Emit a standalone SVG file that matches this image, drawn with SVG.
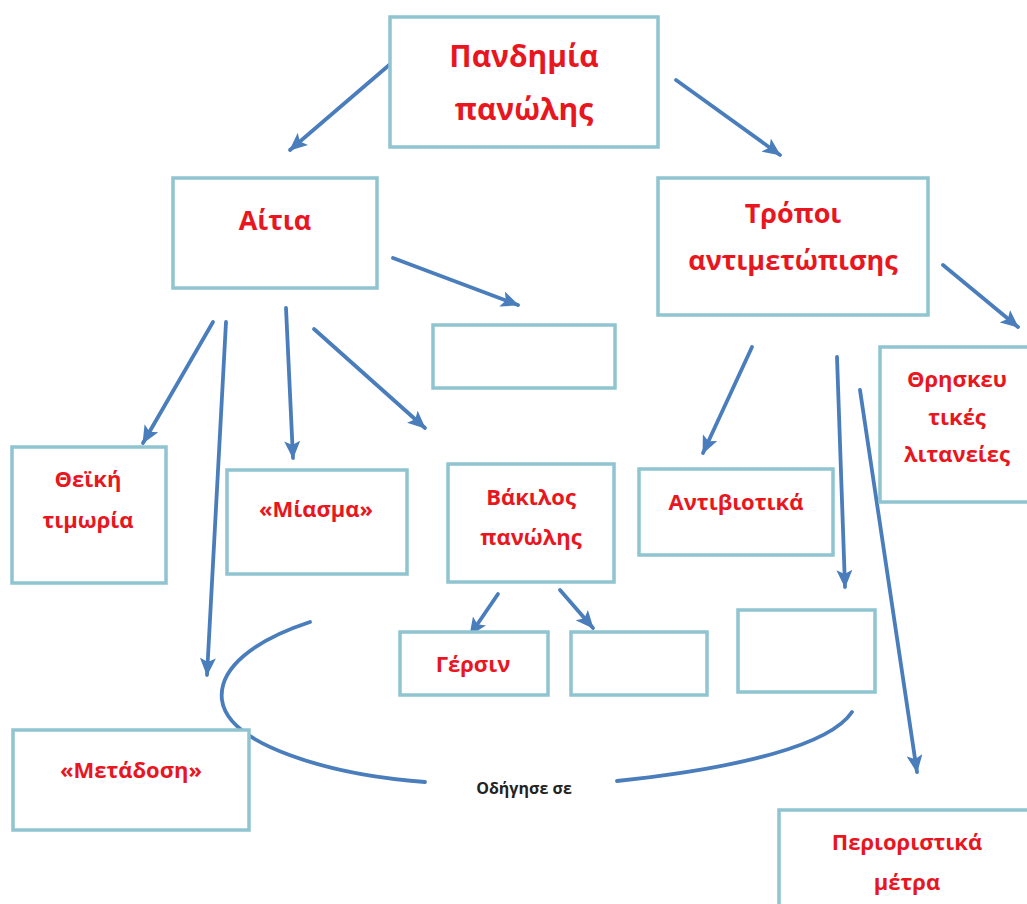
<svg xmlns="http://www.w3.org/2000/svg" width="1027" height="904" viewBox="0 0 1027 904">
<style>
.box{fill:#fff;stroke:#8fc4d0;stroke-width:3.5}
.t{font-family:"Open Sans","Noto Sans",sans-serif;font-weight:700;fill:#e8161e;text-anchor:middle}
.c{fill:none;stroke:#4a7dbb;stroke-width:3.8;stroke-linecap:round}
.lbl{font-family:"Open Sans","Noto Sans",sans-serif;font-weight:700;fill:#222;text-anchor:middle;font-size:16px}
</style>
<defs>
<marker id="ah" markerUnits="userSpaceOnUse" markerWidth="18" markerHeight="16" refX="17" refY="8" orient="auto">
<path d="M0,0 L18,8 L0,16 L4,8 Z" fill="#4a7dbb"/>
</marker>
</defs>
<rect width="1027" height="904" fill="#fff"/>
<g id="connectors">
<line class="c" x1="395" y1="60" x2="290" y2="150" marker-end="url(#ah)"/>
<line class="c" x1="676" y1="80" x2="780" y2="155" marker-end="url(#ah)"/>
<line class="c" x1="393" y1="258" x2="518" y2="305" marker-end="url(#ah)"/>
<line class="c" x1="213" y1="322" x2="143" y2="443" marker-end="url(#ah)"/>
<line class="c" x1="226" y1="322" x2="207" y2="675" marker-end="url(#ah)"/>
<line class="c" x1="286" y1="308" x2="293" y2="458" marker-end="url(#ah)"/>
<line class="c" x1="314" y1="329" x2="425" y2="428" marker-end="url(#ah)"/>
<line class="c" x1="752" y1="347" x2="703" y2="453" marker-end="url(#ah)"/>
<line class="c" x1="943" y1="265" x2="1018" y2="327" marker-end="url(#ah)"/>
<line class="c" x1="837" y1="357" x2="845" y2="587" marker-end="url(#ah)"/>
<line class="c" x1="860" y1="390" x2="917" y2="772" marker-end="url(#ah)"/>
<line class="c" x1="498" y1="594" x2="470" y2="635" marker-end="url(#ah)"/>
<line class="c" x1="560" y1="590" x2="593" y2="628" marker-end="url(#ah)"/>
<path class="c" d="M310,622 C255,640 218,668 222,700 C228,745 330,775 425,782"/>
<path class="c" d="M617,781 C740,768 830,745 852,712"/>
<text class="lbl" x="524" y="794">Οδήγησε σε</text>
</g>
<g id="pandimia"><rect class="box" x="390" y="17" width="268" height="130"/>
<text class="t" font-size="30" x="524" y="67">Πανδημία</text>
<text class="t" font-size="30" x="524" y="120">πανώλης</text></g>
<g id="aitia"><rect class="box" x="173" y="178" width="204" height="110"/>
<text class="t" font-size="27" x="275" y="230">Αίτια</text></g>
<g id="empty1"><rect class="box" x="433" y="325" width="182" height="63"/></g>
<g id="tropoi"><rect class="box" x="658" y="178" width="270" height="137"/>
<text class="t" font-size="27" x="793" y="223">Τρόποι</text>
<text class="t" font-size="27" x="793" y="270">αντιμετώπισης</text></g>
<g id="thriskeutikes"><rect class="box" x="880" y="347" width="160" height="155"/>
<text class="t" font-size="22" x="957" y="387">Θρησκευ</text>
<text class="t" font-size="22" x="957" y="425">τικές</text>
<text class="t" font-size="22" x="957" y="462">λιτανείες</text></g>
<g id="theiki"><rect class="box" x="12" y="447" width="154" height="136"/>
<text class="t" font-size="22" x="88" y="487">Θεϊκή</text>
<text class="t" font-size="22" x="88" y="528">τιμωρία</text></g>
<g id="miasma"><rect class="box" x="227" y="470" width="180" height="104"/>
<text class="t" font-size="22" x="316" y="517">«Μίασμα»</text></g>
<g id="vakilos"><rect class="box" x="448" y="464" width="166" height="118"/>
<text class="t" font-size="22" x="531" y="505">Βάκιλος</text>
<text class="t" font-size="22" x="531" y="545">πανώλης</text></g>
<g id="antiviotika"><rect class="box" x="639" y="469" width="194" height="86"/>
<text class="t" font-size="22" x="736" y="510">Αντιβιοτικά</text></g>
<g id="gersin"><rect class="box" x="400" y="632" width="148" height="63"/>
<text class="t" font-size="22" x="473" y="672">Γέρσιν</text></g>
<g id="empty2"><rect class="box" x="571" y="632" width="136" height="63"/></g>
<g id="empty3"><rect class="box" x="738" y="610" width="137" height="82"/></g>
<g id="metadosi"><rect class="box" x="13" y="730" width="236" height="100"/>
<text class="t" font-size="22" x="131" y="778">«Μετάδοση»</text></g>
<g id="perioristika"><rect class="box" x="779" y="810" width="260" height="110"/>
<text class="t" font-size="22" x="907" y="850">Περιοριστικά</text>
<text class="t" font-size="22" x="907" y="890">μέτρα</text></g>
</svg>
